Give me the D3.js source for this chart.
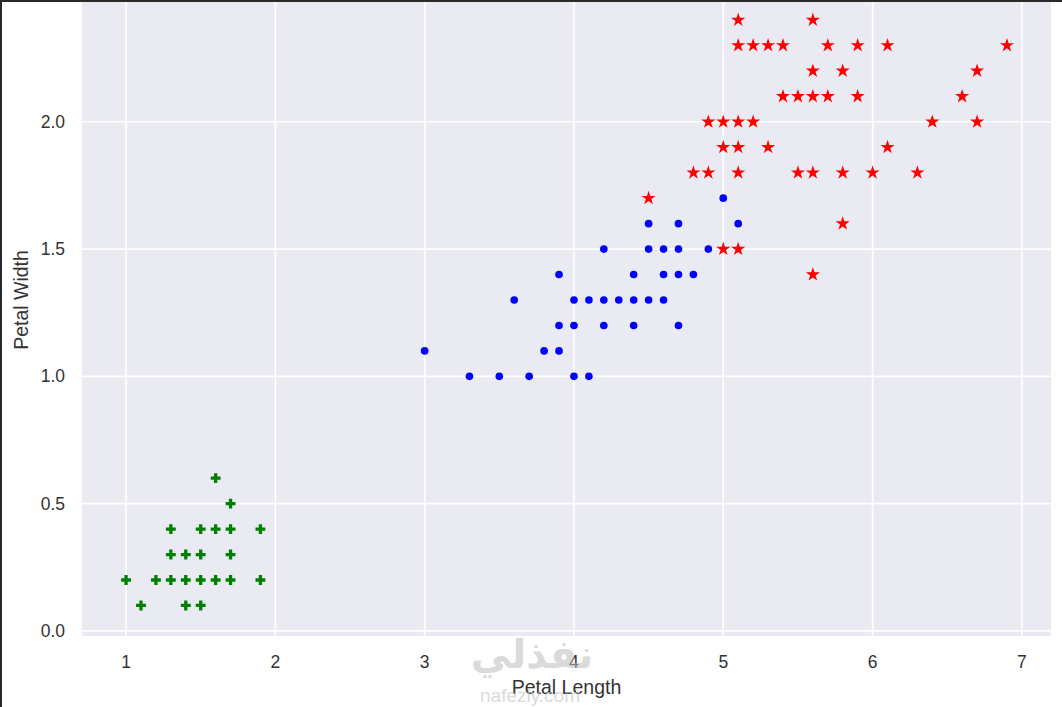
<!DOCTYPE html>
<html>
<head>
<meta charset="utf-8">
<script src="https://cdn.jsdelivr.net/npm/d3@7"></script>
<style>
  body { margin: 0; background: #fff; }
  svg { display: block; font-family: "Liberation Sans", Arial, sans-serif; }
</style>
</head>
<body>
<div id="chart"></div>
<script>
(function () {

  const setosa = [
    [1.6, 0.6], [1.7, 0.5],
    [1.3, 0.4], [1.5, 0.4], [1.6, 0.4], [1.7, 0.4], [1.9, 0.4],
    [1.3, 0.3], [1.4, 0.3], [1.5, 0.3], [1.7, 0.3],
    [1.0, 0.2], [1.2, 0.2], [1.3, 0.2], [1.4, 0.2], [1.5, 0.2], [1.6, 0.2], [1.7, 0.2], [1.9, 0.2],
    [1.1, 0.1], [1.4, 0.1], [1.5, 0.1]
  ]
  const versicolor = [
    [5.0, 1.7],
    [4.5, 1.6], [4.7, 1.6], [5.1, 1.6],
    [4.2, 1.5], [4.5, 1.5], [4.6, 1.5], [4.7, 1.5], [4.9, 1.5],
    [3.9, 1.4], [4.4, 1.4], [4.6, 1.4], [4.7, 1.4], [4.8, 1.4],
    [3.6, 1.3], [4.0, 1.3], [4.1, 1.3], [4.2, 1.3], [4.3, 1.3], [4.4, 1.3], [4.5, 1.3], [4.6, 1.3],
    [3.9, 1.2], [4.0, 1.2], [4.2, 1.2], [4.4, 1.2], [4.7, 1.2],
    [3.0, 1.1], [3.8, 1.1], [3.9, 1.1],
    [3.3, 1.0], [3.5, 1.0], [3.7, 1.0], [4.0, 1.0], [4.1, 1.0]
  ]
  const virginica = [
    [5.1, 2.4], [5.6, 2.4],
    [5.1, 2.3], [5.2, 2.3], [5.3, 2.3], [5.4, 2.3], [5.7, 2.3], [5.9, 2.3], [6.1, 2.3], [6.9, 2.3],
    [5.6, 2.2], [5.8, 2.2], [6.7, 2.2],
    [5.4, 2.1], [5.5, 2.1], [5.6, 2.1], [5.7, 2.1], [5.9, 2.1], [6.6, 2.1],
    [4.9, 2.0], [5.0, 2.0], [5.1, 2.0], [5.2, 2.0], [6.4, 2.0], [6.7, 2.0],
    [5.0, 1.9], [5.1, 1.9], [5.3, 1.9], [6.1, 1.9],
    [4.8, 1.8], [4.9, 1.8], [5.1, 1.8], [5.5, 1.8], [5.6, 1.8], [5.8, 1.8], [6.0, 1.8], [6.3, 1.8],
    [4.5, 1.7], [5.8, 1.6], [5.0, 1.5], [5.1, 1.5], [5.6, 1.4]
  ]

  const xTicks = [1, 2, 3, 4, 5, 6, 7]
  const yTicks = [0.0, 0.5, 1.0, 1.5, 2.0]

  const W = 1062, H = 707

  // axes box; top runs past the top of the (cropped) picture
  const left = 82, right = 1051, top = -36, bottom = 636

  const svg = d3.select("#chart").append("svg")
      .attr("width", W)
      .attr("height", H)

  const x = d3.scaleLinear().domain([0.705, 7.195]).range([left, right])
  const y = d3.scaleLinear().domain([-0.02, 2.62]).range([bottom, top])

  svg.append("rect")
    .attr("x", left).attr("y", top)
    .attr("width", right - left).attr("height", bottom - top)
    .attr("fill", "#eaeaf2")

  // white grid
  svg.append("g").selectAll("line")
    .data(xTicks)
    .join("line")
    .attr("x1", d => x(d)).attr("x2", d => x(d))
    .attr("y1", top).attr("y2", bottom)
    .attr("stroke", "#fff").attr("stroke-width", 1.6)

  svg.append("g").selectAll("line")
    .data(yTicks)
    .join("line")
    .attr("x1", left).attr("x2", right)
    .attr("y1", d => y(d)).attr("y2", d => y(d))
    .attr("stroke", "#fff").attr("stroke-width", 1.6)

  // tick labels
  svg.append("g").selectAll("text")
    .data(xTicks)
    .join("text")
    .attr("x", d => x(d))
    .attr("y", 668)
    .attr("text-anchor", "middle")
    .attr("font-size", 17.5)
    .attr("fill", "#333")
    .text(d => d)

  svg.append("g").selectAll("text")
    .data(yTicks)
    .join("text")
    .attr("x", 65)
    .attr("y", d => y(d))
    .attr("dy", "0.35em")
    .attr("text-anchor", "end")
    .attr("font-size", 17.5)
    .attr("fill", "#333")
    .text(d => d3.format(".1f")(d))

  // axis titles
  svg.append("text")
    .attr("x", (left + right) / 2)
    .attr("y", 694)
    .attr("text-anchor", "middle")
    .attr("font-size", 19.5)
    .attr("fill", "#333")
    .text("Petal Length")

  svg.append("text")
    .attr("transform", "translate(28," + ((top + bottom) / 2) + ") rotate(-90)")
    .attr("text-anchor", "middle")
    .attr("font-size", 19.5)
    .attr("fill", "#333")
    .text("Petal Width")

  // faint watermark laid over the bottom axis
  const mark = svg.append("g").attr("opacity", 0.55).attr("fill", "#bdbdbd")
  mark.append("text")
    .attr("x", 532).attr("y", 668)
    .attr("text-anchor", "middle")
    .attr("font-family", "DejaVu Sans, sans-serif")
    .attr("font-weight", "bold")
    .attr("font-size", 40)
    .text("نفذلي")
  mark.append("text")
    .attr("x", 530).attr("y", 702)
    .attr("text-anchor", "middle")
    .attr("font-size", 19)
    .text("nafezly.com")

  // markers
  const plots = svg.append("g")

  plots.selectAll(".setosa")
    .data(setosa)
    .join("path")
    .attr("class", "setosa")
    .attr("d", d3.symbol(d3.symbolCross, 54))
    .attr("transform", d => "translate(" + x(d[0]) + "," + y(d[1]) + ")")
    .attr("fill", "#008000")

  plots.selectAll(".versicolor")
    .data(versicolor)
    .join("path")
    .attr("class", "versicolor")
    .attr("d", d3.symbol(d3.symbolCircle, 46))
    .attr("transform", d => "translate(" + x(d[0]) + "," + y(d[1]) + ")")
    .attr("fill", "#0000ff")

  plots.selectAll(".virginica")
    .data(virginica)
    .join("path")
    .attr("class", "virginica")
    .attr("d", d3.symbol(d3.symbolStar, 62))
    .attr("transform", d => "translate(" + x(d[0]) + "," + y(d[1]) + ")")
    .attr("fill", "#ff0000")

  // screenshot frame on top and left
  svg.append("line")
    .attr("x1", 0).attr("x2", W).attr("y1", 1).attr("y2", 1)
    .attr("stroke", "#2a2a2a").attr("stroke-width", 2)
  svg.append("line")
    .attr("x1", 1).attr("x2", 1).attr("y1", 0).attr("y2", H)
    .attr("stroke", "#2a2a2a").attr("stroke-width", 2)

})();
</script>
</body>
</html>
